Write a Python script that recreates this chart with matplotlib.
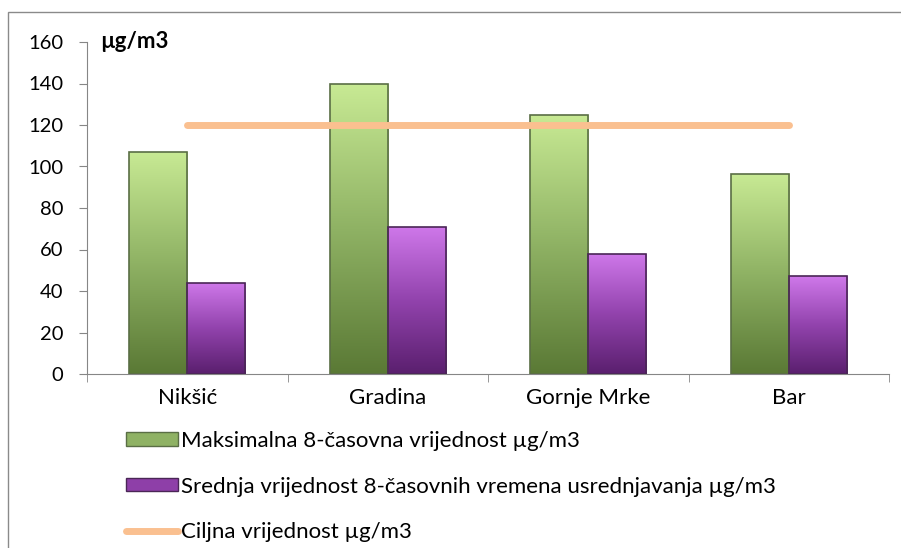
import numpy as np
import matplotlib
matplotlib.use("Agg")
from matplotlib import pyplot as plt
from matplotlib.patches import Patch, Rectangle
from matplotlib.lines import Line2D
from matplotlib.colors import LinearSegmentedColormap

# data
stations = ["Nikšić", "Gradina", "Gornje Mrke", "Bar"]
max_8h = [107, 140, 125, 96.5]
mean_8h = [44, 71, 58, 47]
target = [120, 120, 120, 120]

label_max = "Maksimalna 8-časovna vrijednost µg/m3"
label_mean = "Srednja vrijednost 8-časovnih vremena usrednjavanja µg/m3"
label_target = "Ciljna vrijednost µg/m3"

plt.rcParams['font.family'] = ['Lato', 'DejaVu Sans']

green_cmap = LinearSegmentedColormap.from_list("g", ["#5a7935", "#8fb264", "#c8ea94"])
purple_cmap = LinearSegmentedColormap.from_list("p", ["#5a1f6e", "#9243ad", "#cf78ea"])

fig = plt.figure(figsize=(9.01, 5.48), dpi=100)
ax = fig.add_axes([87 / 901, 1 - 374 / 548, 802 / 901, 332 / 548])

x = np.arange(len(stations))
w = 0.29

def gradient_bars(bars, cmap):
    grad = np.linspace(0, 1, 256).reshape(-1, 1)
    for b in bars:
        x0, y0 = b.get_x(), b.get_y()
        im = ax.imshow(grad, cmap=cmap, origin="lower", aspect="auto",
                       extent=[x0, x0 + b.get_width(), y0, y0 + b.get_height()],
                       zorder=2)
        im.set_clip_path(b)

b1 = ax.bar(x - w / 2, max_8h, w, facecolor="none", edgecolor="#5a6e45", linewidth=1.2, zorder=3)
b2 = ax.bar(x + w / 2, mean_8h, w, facecolor="none", edgecolor="#4a2656", linewidth=1.2, zorder=3)
gradient_bars(b1, green_cmap)
gradient_bars(b2, purple_cmap)

ax.plot(x, target, color="#fac090", linewidth=5, solid_capstyle="round", zorder=4)

ax.set_xlim(-0.5, 3.5)
ax.set_ylim(0, 160)
ax.set_yticks(range(0, 161, 20))
ax.set_xticks(x)
ax.set_xticklabels(stations)
ax.set_xticks(np.arange(-0.5, 3.6, 1), minor=True)
ax.tick_params(axis="x", which="major", length=0, labelsize=16, pad=10)
ax.tick_params(axis="x", which="minor", length=6, color="#868686", direction="out")
ax.tick_params(axis="y", length=6, color="#868686", labelsize=14.5, pad=11)

for s in ["top", "right"]:
    ax.spines[s].set_visible(False)
for s in ["left", "bottom"]:
    ax.spines[s].set_color("#868686")
ax.set_facecolor("none")

ax.text(0.016, 1.0, "µg/m3", transform=ax.transAxes, fontsize=16,
        fontweight="bold", va="center", ha="left")

# outer chart border
fig.patches.append(Rectangle((8 / 901, -0.02), 1.0, 1 - 12 / 548 + 0.02,
                             transform=fig.transFigure, fill=False,
                             edgecolor="#8a8a8a", linewidth=1))

handles = [
    Patch(facecolor="#8fb264", edgecolor="#5a6e45"),
    Patch(facecolor="#8e3fa8", edgecolor="#4a2656"),
    Line2D([0], [0], color="#fac090", linewidth=5, solid_capstyle="round"),
]
fig.legend(handles, [label_max, label_mean, label_target],
           loc="upper left", bbox_to_anchor=(126 / 901, 1 - 431 / 548),
           frameon=False, fontsize=16, handlelength=2.35, handleheight=0.55,
           handletextpad=0.12, labelspacing=1.15, borderpad=0, borderaxespad=0)

fig.savefig("out.png", dpi=100)
